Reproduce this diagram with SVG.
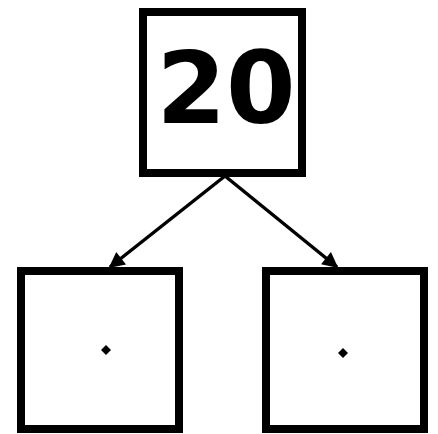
<svg xmlns="http://www.w3.org/2000/svg" width="438" height="434" viewBox="0 0 438 434">
<style>
.box{fill:#fff;stroke:#000;stroke-width:8}
.edge{stroke:#000;stroke-width:3.5;fill:none}
.lbl{font-family:"DejaVu Sans",sans-serif;font-weight:bold;font-size:100px;fill:#000}
</style>
<defs>
<marker id="ah" viewBox="0 0 10 10" refX="9" refY="5" markerWidth="5" markerHeight="4.5" markerUnits="strokeWidth" orient="auto">
<path d="M0,0 L10,5 L0,10 z" fill="#000"/>
</marker>
</defs>
<rect width="438" height="434" fill="#fff"/>
<g id="edges">
<line class="edge" x1="225" y1="176" x2="110" y2="267" marker-end="url(#ah)"/>
<line class="edge" x1="225" y1="176" x2="337" y2="267" marker-end="url(#ah)"/>
</g>
<g id="node-root">
<rect class="box" x="143" y="12" width="159" height="161"/>
<text class="lbl" x="226" y="123" text-anchor="middle">20</text>
</g>
<g id="node-left">
<rect class="box" x="21" y="271" width="158" height="158"/>
<path d="M106,345 L111,350 L106,355 L101,350 z" fill="#000"/>
</g>
<g id="node-right">
<rect class="box" x="266" y="271" width="158" height="158"/>
<path d="M343,348 L348,353 L343,358 L338,353 z" fill="#000"/>
</g>
</svg>
